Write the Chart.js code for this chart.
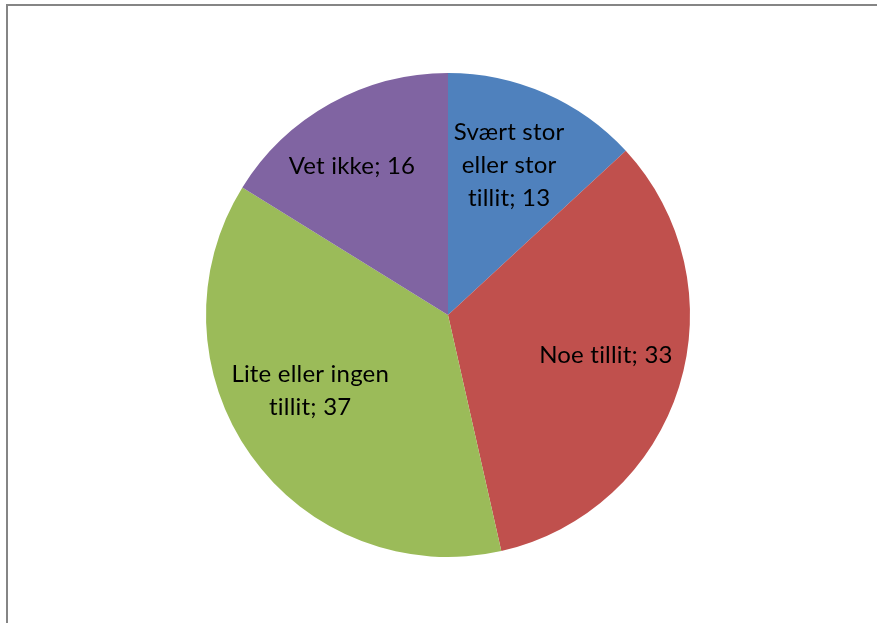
<!DOCTYPE html>
<html>
<head>
<meta charset="utf-8">
<script src="https://cdn.jsdelivr.net/npm/chart.js@4.4.1/dist/chart.umd.min.js"></script>
<style>
    html, body { margin: 0; padding: 0; background: #ffffff; }
    #wrap { width: 877px; height: 623px; }
</style>
</head>
<body>
<div id="wrap"><canvas id="tillit-chart" width="877" height="623"></canvas></div>
<script>
// Answers, clockwise from 12 o'clock
const categories = ['Svært stor\neller stor\ntillit', 'Noe tillit', 'Lite eller ingen\ntillit', 'Vet ikke'];
const shares = [13, 33, 37, 16];
const sliceColors = ['#4F81BD', '#C0504D', '#9BBB59', '#8064A2'];

// label placement: radial fraction of the radius + small angle nudge (degrees)
const labelRadius = [0.67, 0.673, 0.65, 0.733];
const labelNudge = [-1.5, -3.1, 6.6, -3.7];

// grey frame round the plot area
const framePlugin = {
    id: 'frame',
    beforeDraw(chart) {
        const ctx = chart.ctx;
        ctx.save();
        ctx.fillStyle = '#ffffff';
        ctx.fillRect(0, 0, chart.width, chart.height);
        ctx.strokeStyle = '#858585';
        ctx.lineWidth = 2;
        ctx.strokeRect(7, 5, chart.width + 20, chart.height + 20);
        ctx.restore();
    }
};

// "name; value" labels inside the slices
const sliceLabels = {
    id: 'sliceLabels',
    afterDatasetsDraw(chart) {
        const ctx = chart.ctx;
        const meta = chart.getDatasetMeta(0);
        ctx.save();
        ctx.font = '24px Lato, "Open Sans", sans-serif';
        // tiny spacing keeps Lato from joining "ti"
        if ('letterSpacing' in ctx) ctx.letterSpacing = '0.2px';
        ctx.fillStyle = '#000000';
        ctx.textAlign = 'center';
        ctx.textBaseline = 'middle';
        meta.data.forEach((arc, i) => {
            const p = arc.getProps(['x', 'y', 'startAngle', 'endAngle', 'outerRadius'], true);
            const mid = (p.startAngle + p.endAngle) / 2 + labelNudge[i] * Math.PI / 180;
            const r = p.outerRadius * labelRadius[i];
            const cx = p.x + Math.cos(mid) * r;
            const cy = p.y + Math.sin(mid) * r;
            const lines = (categories[i] + '; ' + shares[i]).split('\n');
            const lh = 33;
            lines.forEach((line, k) => {
                ctx.fillText(line, cx, cy + (k - (lines.length - 1) / 2) * lh);
            });
        });
        ctx.restore();
    }
};

new Chart(document.getElementById('tillit-chart'), {
    type: 'pie',
    data: {
        labels: categories.map(c => c.replace(/\n/g, ' ')),
        datasets: [{
            data: shares,
            backgroundColor: sliceColors,
            borderWidth: 0
        }]
    },
    options: {
        responsive: false,
        animation: false,
        layout: { padding: { left: 206, top: 73, right: 187, bottom: 66 } },
        plugins: {
            legend: { display: false },
            tooltip: { enabled: false }
        }
    },
    plugins: [framePlugin, sliceLabels]
});
</script>
</body>
</html>
